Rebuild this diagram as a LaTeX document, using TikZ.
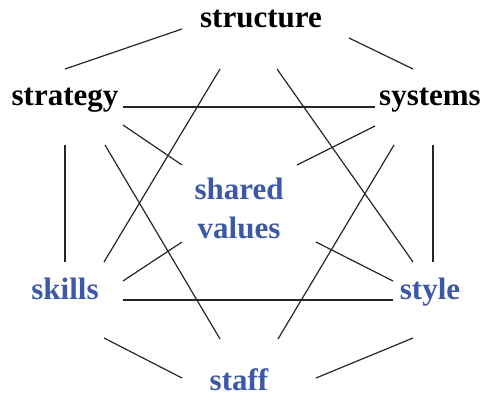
\documentclass[tikz,border=0pt]{standalone}
\usepackage{fontspec}
\setmainfont{Liberation Serif}
\definecolor{sblue}{RGB}{62,88,168}
\tikzset{
  lbl/.style={anchor=base, inner sep=0pt, font=\fontsize{31}{36}\selectfont\bfseries},
  blk/.style={lbl, text=black},
  blu/.style={lbl, text=sblue},
  link/.style={line width=1.2pt, draw=black!85}
}
\begin{document}
\begin{tikzpicture}[x=1pt,y=-1pt]
\useasboundingbox (0,0) rectangle (484,396);
% labels
\node[blk] (structure) at (261,28) {structure};
\node[blk] (strategy) at (65,105) {strategy};
\node[blk] (systems) at (430,105) {systems};
\node[blu] (shared) at (239,199) {shared};
\node[blu] (values) at (239,238) {values};
\node[blu] (skills) at (65,299) {skills};
\node[blu] (style) at (430,299) {style};
\node[blu] (staff) at (239,390) {staff};
% endpoints
\coordinate (a1) at (182,29);  \coordinate (a2) at (65,69);
\coordinate (b1) at (349,38);  \coordinate (b2) at (413,69);
\coordinate (c1) at (123,107); \coordinate (c2) at (375,107);
\coordinate (d1) at (123,125); \coordinate (d2) at (182,165);
\coordinate (e1) at (375,126); \coordinate (e2) at (297,165);
\coordinate (f1) at (220,69);  \coordinate (f2) at (104,262);
\coordinate (g1) at (277,69);  \coordinate (g2) at (413,262);
\coordinate (h1) at (105,145); \coordinate (h2) at (220,339);
\coordinate (i1) at (394,145); \coordinate (i2) at (278,339);
\coordinate (j1) at (65,145);  \coordinate (j2) at (65,262);
\coordinate (k1) at (433,145); \coordinate (k2) at (433,262);
\coordinate (l1) at (123,281); \coordinate (l2) at (182,242);
\coordinate (m1) at (316,242); \coordinate (m2) at (393,281);
\coordinate (n1) at (123,300); \coordinate (n2) at (393,300);
\coordinate (o1) at (104,338); \coordinate (o2) at (182,378);
\coordinate (p1) at (413,338); \coordinate (p2) at (316,378);
\foreach \s in {a,b,c,d,e,f,g,h,i,j,k,l,m,n,o,p}
  \draw[link] (\s1) -- (\s2);
\end{tikzpicture}
\end{document}
